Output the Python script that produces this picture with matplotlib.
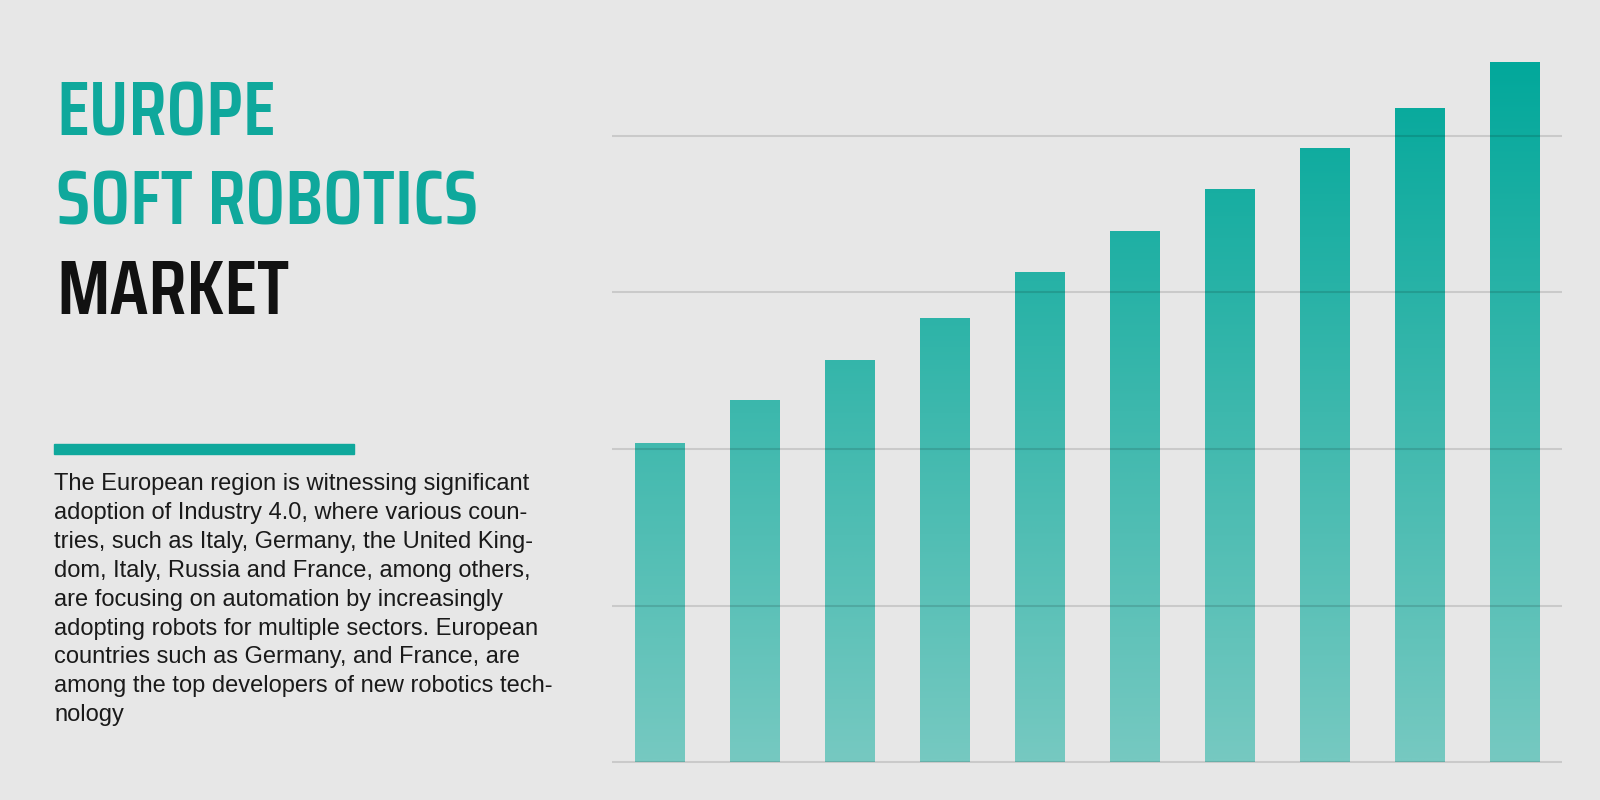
import numpy as np
import matplotlib
matplotlib.use("Agg")
import matplotlib.pyplot as plt
from matplotlib.colors import LinearSegmentedColormap

# ---- data ----
categories = ["1", "2", "3", "4", "5", "6", "7", "8", "9", "10"]
values = [2.04, 2.31, 2.57, 2.84, 3.13, 3.39, 3.66, 3.92, 4.18, 4.47]
grid_ticks = [0, 1, 2, 3, 4]

title_lines = ["EUROPE", "SOFT ROBOTICS", "MARKET"]
body_lines = [
    "The European region is witnessing significant",
    "adoption of Industry 4.0, where various coun-",
    "tries, such as Italy, Germany, the United King-",
    "dom, Italy, Russia and France, among others,",
    "are focusing on automation by increasingly",
    "adopting robots for multiple sectors. European",
    "countries such as Germany, and France, are",
    "among the top developers of new robotics tech-",
    "nology",
]

BG = "#e7e7e7"
TEAL = "#0fa89c"
W, H = 1600, 800

fig = plt.figure(figsize=(16, 8), dpi=100, facecolor=BG)

def fx(px):
    return px / W

def fy(py):
    return 1 - py / H

# ---- chart ----
ymax = 4.6
ax_left, ax_right = 612, 1562
ax_bottom = 763.7
unit = 156.9
ax_top = ax_bottom - ymax * unit
ax = fig.add_axes([fx(ax_left), fy(ax_bottom), fx(ax_right - ax_left), (ax_bottom - ax_top) / H])
ax.set_facecolor("none")

x = np.arange(len(categories))
bars = ax.bar(x, values, width=0.526, color="none", edgecolor="none", zorder=2)

cmap = LinearSegmentedColormap.from_list("tealgrad", ["#76c9c1", "#3db8ad", "#02a89b"])
top_val = max(values)
for rect, v in zip(bars, values):
    x0 = rect.get_x()
    x1 = x0 + rect.get_width()
    grad = np.linspace(0, v / top_val, 256).reshape(-1, 1)
    im = ax.imshow(grad, cmap=cmap, vmin=0, vmax=1, origin="lower",
                   extent=[x0, x1, 0, v], aspect="auto", zorder=2,
                   interpolation="bilinear")
    im.set_clip_path(rect)

ax.set_xlim(-0.5, len(categories) - 0.5)
ax.set_ylim(-0.01, ymax)
ax.set_yticks(grid_ticks)
ax.set_xticks([])
ax.yaxis.grid(True, color="black", alpha=0.12, linewidth=1.5, zorder=3)
ax.set_axisbelow(False)
ax.tick_params(axis="y", length=0, labelleft=False)
for s in ax.spines.values():
    s.set_visible(False)

# ---- left text ----
title_font = ["Saira Condensed", "DejaVu Sans"]
title_colors = [TEAL, TEAL, "#111111"]
title_baselines = [135.5, 224.5, 314]
for line, c, b in zip(title_lines, title_colors, title_baselines):
    fig.text(fx(56), fy(b), line, color=c, fontsize=56, fontweight="semibold",
             family=title_font, va="baseline", ha="left")

fig.patches.append(plt.Rectangle((fx(54), fy(454)), fx(300), 10 / H,
                                 transform=fig.transFigure, color=TEAL))

for i, line in enumerate(body_lines):
    fig.text(fx(54), fy(490 + i * 28.9), line, color="#1a1a1a", fontsize=17,
             family=["Liberation Sans", "DejaVu Sans"], va="baseline", ha="left")

fig.savefig("out.png", dpi=100, facecolor=BG)
